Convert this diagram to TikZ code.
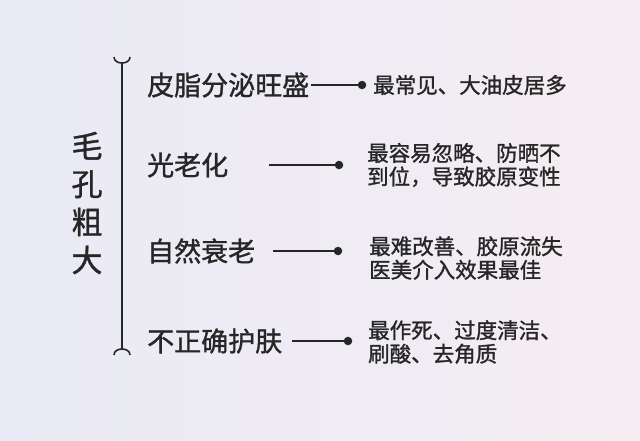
\documentclass[tikz,border=0pt]{standalone}
\usepackage{fontspec}
\newfontfamily\cjk{Noto Sans CJK SC}[FakeBold=1.2,AutoFakeBold=1.2]
\begin{document}
\begin{tikzpicture}[
    x=1pt,
    y=-1pt,
    title/.style={
        text=black!85,
        inner sep=0pt,
        align=center,
        font=\cjk\bfseries\fontsize{31}{38}\selectfont
    },
    cause/.style={
        anchor=west,
        text=black!85,
        inner sep=0pt,
        font=\cjk\fontsize{27}{30}\selectfont
    },
    note/.style={
        anchor=west,
        align=left,
        text=black!85,
        inner sep=0pt,
        font=\cjk\fontsize{21.5}{23.5}\selectfont
    },
    link/.style={
        line width=1.8pt,
        draw=black!85
    },
    dot/.style={
        circle,
        fill=black!85,
        inner sep=0pt,
        minimum size=8.5pt
    },
    bracket/.style={
        line width=1.6pt,
        draw=black!85
    }
]

    % Pozadí
    \fill[left color={rgb,255:red,233;green,234;blue,245},
          right color={rgb,255:red,245;green,237;blue,242}] (0,0) rectangle (640,440);
    \useasboundingbox (0,0) rectangle (640,440);

    % Svislá závorka
    \coordinate (top) at (122,63);
    \coordinate (bot) at (122,349);
    \draw[bracket] (114,57) .. controls (114,65) and (130,65) .. (130,57);
    \draw[bracket] (114,355) .. controls (114,347) and (130,347) .. (130,355);
    \draw[bracket] (top) -- (bot);

    \node[title] (title) at (87,203) {毛\\孔\\粗\\大};

    % Příčiny
    \foreach \i/\y/\txt in {
        1/85/皮脂分泌旺盛,2/165/光老化,3/251/自然衰老,4/341/不正确护肤
    }{
        \node[cause] (c\i) at (147,\y) {\txt};
    }

    % Spojnice s tečkou
    \foreach \i/\sx/\dx/\y in {
        1/311/362/85,2/269/339/165,3/273/338/251,4/292/348/341
    }{
        \coordinate (s\i) at (\sx,\y);
        \node[dot] (d\i) at (\dx,\y) {};
        \draw[link] (s\i) -- (d\i);
    }

    % Poznámky
    \node[note] (n1) at (373,85) {最常见、大油皮居多};
    \node[note] (n2) at (367,165) {最容易忽略、防晒不\\到位，导致胶原变性};
    \node[note] (n3) at (369,258) {最难改善、胶原流失\\医美介入效果最佳};
    \node[note] (n4) at (368,342) {最作死、过度清洁、\\刷酸、去角质};

\end{tikzpicture}
\end{document}
